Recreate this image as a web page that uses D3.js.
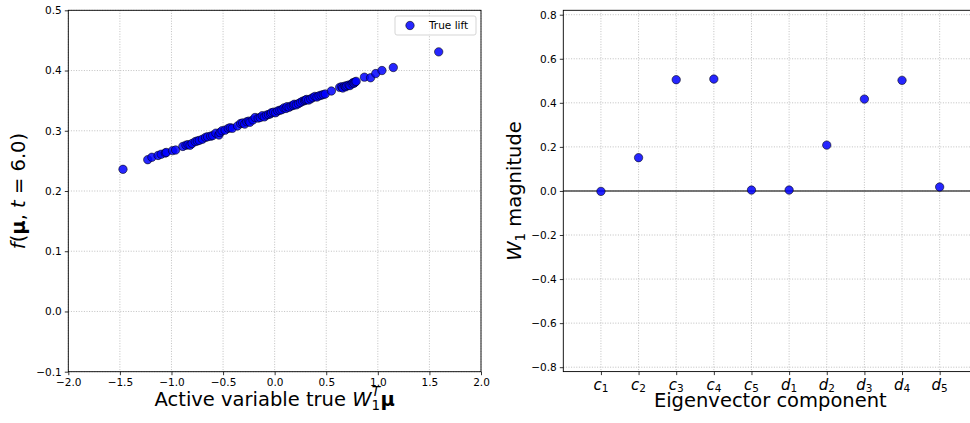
<!DOCTYPE html>
<html>
<head>
<meta charset="utf-8">
<script src="https://cdn.jsdelivr.net/npm/d3@7"></script>
<style>
  body { margin: 0; background: #fff; }
  svg { display: block; font-family: "DejaVu Sans", sans-serif; }
</style>
</head>
<body>
<svg id="chart" width="970" height="423"></svg>
<script>
// ---- Left panel data: active variable vs. lift ----
const activeVar = [-1.47, -1.23, -1.19, -1.13, -1.10, -1.06, -1.05, -0.99, -0.96, -0.89,
  -0.86, -0.84, -0.82, -0.80, -0.77, -0.75, -0.73, -0.70, -0.67, -0.65,
  -0.62, -0.60, -0.57, -0.54, -0.53, -0.51, -0.48, -0.45, -0.43, -0.41,
  -0.36, -0.33, -0.31, -0.29, -0.27, -0.25, -0.24, -0.21, -0.19, -0.16,
  -0.14, -0.12, -0.10, -0.08, -0.06, -0.04, -0.03, -0.01, 0.01, 0.03,
  0.05, 0.07, 0.09, 0.11, 0.12, 0.14, 0.16, 0.18, 0.19, 0.21,
  0.23, 0.25, 0.27, 0.29, 0.30, 0.31, 0.33, 0.35, 0.37, 0.39,
  0.41, 0.43, 0.45, 0.47, 0.49, 0.55, 0.63, 0.65, 0.66, 0.68,
  0.69, 0.70, 0.72, 0.73, 0.75, 0.76, 0.77, 0.78, 0.79, 0.87,
  0.93, 0.98, 1.04, 1.15, 1.59];
const trueLift = [0.236, 0.252, 0.256, 0.259, 0.261, 0.263, 0.264, 0.267, 0.268, 0.274,
  0.276, 0.277, 0.276, 0.279, 0.282, 0.283, 0.284, 0.286, 0.289, 0.290,
  0.291, 0.292, 0.296, 0.293, 0.297, 0.300, 0.301, 0.304, 0.305, 0.304,
  0.308, 0.312, 0.313, 0.311, 0.315, 0.316, 0.314, 0.318, 0.322, 0.321,
  0.322, 0.325, 0.323, 0.326, 0.327, 0.328, 0.330, 0.331, 0.330, 0.333,
  0.334, 0.335, 0.338, 0.337, 0.340, 0.339, 0.341, 0.342, 0.344, 0.343,
  0.345, 0.347, 0.349, 0.350, 0.351, 0.352, 0.351, 0.353, 0.355, 0.357,
  0.356, 0.358, 0.359, 0.360, 0.361, 0.366, 0.372, 0.373, 0.371, 0.374,
  0.373, 0.375, 0.376, 0.375, 0.378, 0.380, 0.379, 0.381, 0.382, 0.389,
  0.388, 0.395, 0.400, 0.405, 0.431];
const leftXTicks = [-2.0, -1.5, -1.0, -0.5, 0.0, 0.5, 1.0, 1.5, 2.0];
const leftYTicks = [-0.1, 0.0, 0.1, 0.2, 0.3, 0.4, 0.5];

// ---- Right panel data: eigenvector components ----
const compLetters = ["c", "c", "c", "c", "c", "d", "d", "d", "d", "d"];
const compIndex = ["1", "2", "3", "4", "5", "1", "2", "3", "4", "5"];
const w1Magnitude = [-0.002, 0.151, 0.505, 0.508, 0.004, 0.004, 0.208, 0.417, 0.502, 0.018];
const rightYTicks = [-0.8, -0.6, -0.4, -0.2, 0.0, 0.2, 0.4, 0.6, 0.8];

const svg = d3.select("#chart");
const fmt = d3.format(".1f");
const gridColor = "#b0b0b0";
const ptFill = "#0000ff";

function styleAxis(g) {
  g.select(".domain").remove();
  g.selectAll(".tick line").attr("stroke", "#000").attr("stroke-width", 0.8);
  g.selectAll(".tick text").attr("font-family", "DejaVu Sans").attr("font-size", 10.5).attr("fill", "#000");
}

// ================= LEFT PANEL =================
const L = { x0: 68.3, x1: 481, y0: 10.3, y1: 371.7 };
const xL = d3.scaleLinear().domain([-2, 2]).range([L.x0, L.x1]);
const yL = d3.scaleLinear().domain([-0.1, 0.5]).range([L.y1, L.y0]);
const gl = svg.append("g");

// grid
gl.append("g").selectAll("line").data(leftXTicks).join("line")
  .attr("x1", d => xL(d)).attr("x2", d => xL(d)).attr("y1", L.y0).attr("y2", L.y1)
  .attr("stroke", gridColor).attr("stroke-width", 0.8).attr("stroke-dasharray", "1,1.6");
gl.append("g").selectAll("line").data(leftYTicks).join("line")
  .attr("y1", d => yL(d)).attr("y2", d => yL(d)).attr("x1", L.x0).attr("x2", L.x1)
  .attr("stroke", gridColor).attr("stroke-width", 0.8).attr("stroke-dasharray", "1,1.6");

// points
gl.append("g").selectAll("circle").data(activeVar).join("circle")
  .attr("cx", d => xL(d)).attr("cy", (d, i) => yL(trueLift[i])).attr("r", 4.2)
  .attr("fill", ptFill).attr("fill-opacity", 0.85)
  .attr("stroke", "#000").attr("stroke-opacity", 0.8).attr("stroke-width", 0.7);

// axes
gl.append("g").attr("transform", `translate(0,${L.y1})`)
  .call(d3.axisBottom(xL).tickValues(leftXTicks).tickFormat(fmt).tickSize(3.5).tickPadding(3))
  .call(styleAxis);
gl.append("g").attr("transform", `translate(${L.x0},0)`)
  .call(d3.axisLeft(yL).tickValues(leftYTicks).tickFormat(fmt).tickSize(3.5).tickPadding(3))
  .call(styleAxis);
gl.append("rect").attr("x", L.x0).attr("y", L.y0).attr("width", L.x1 - L.x0).attr("height", L.y1 - L.y0)
  .attr("fill", "none").attr("stroke", "#000").attr("stroke-width", 0.9);

// legend
const lg = gl.append("g");
lg.append("rect").attr("x", 395).attr("y", 16).attr("width", 81).attr("height", 19).attr("rx", 2)
  .attr("fill", "#fff").attr("fill-opacity", 0.8).attr("stroke", "#d0d0d0").attr("stroke-width", 0.9);
lg.append("circle").attr("cx", 410).attr("cy", 25.5).attr("r", 4.2)
  .attr("fill", ptFill).attr("fill-opacity", 0.85).attr("stroke", "#000").attr("stroke-opacity", 0.8).attr("stroke-width", 0.7);
lg.append("text").attr("x", 429).attr("y", 29.3).attr("font-size", 10.5).text("True lift");

// axis labels
const xlab = gl.append("text").attr("x", (L.x0 + L.x1) / 2).attr("y", 406)
  .attr("text-anchor", "middle").attr("font-size", 19.5);
xlab.append("tspan").text("Active variable true ");
xlab.append("tspan").attr("font-style", "italic").text("W");
xlab.append("tspan").attr("font-size", 13.5).attr("dy", 4).text("1");
xlab.append("tspan").attr("font-size", 13.5).attr("font-style", "italic").attr("dx", -8.4).attr("dy", -14).text("T");
xlab.append("tspan").attr("font-weight", "bold").attr("dy", 10).attr("dx", 0.5).text("μ");

const ylab = gl.append("text").attr("transform", "translate(25,191) rotate(-90)")
  .attr("text-anchor", "middle").attr("font-size", 19.5);
ylab.append("tspan").attr("font-style", "italic").text("f");
ylab.append("tspan").text("(");
ylab.append("tspan").attr("font-weight", "bold").text("μ");
ylab.append("tspan").text(", ");
ylab.append("tspan").attr("font-style", "italic").text("t");
ylab.append("tspan").text(" = 6.0)");

// ================= RIGHT PANEL =================
const R = { x0: 563.3, x1: 977.3, y0: 10.3, y1: 371.6 };
const xR = d3.scaleLinear().domain([-1, 10]).range([R.x0, R.x1]);
const yR = d3.scaleLinear().domain([-0.82, 0.82]).range([R.y1, R.y0]);
const gr = svg.append("g");
const idx = d3.range(compLetters.length);

gr.append("g").selectAll("line").data(idx).join("line")
  .attr("x1", d => xR(d)).attr("x2", d => xR(d)).attr("y1", R.y0).attr("y2", R.y1)
  .attr("stroke", gridColor).attr("stroke-width", 0.8).attr("stroke-dasharray", "1,1.6");
gr.append("g").selectAll("line").data(rightYTicks).join("line")
  .attr("y1", d => yR(d)).attr("y2", d => yR(d)).attr("x1", R.x0).attr("x2", R.x1)
  .attr("stroke", gridColor).attr("stroke-width", 0.8).attr("stroke-dasharray", "1,1.6");

// zero line
gr.append("line").attr("x1", R.x0).attr("x2", R.x1).attr("y1", yR(0)).attr("y2", yR(0))
  .attr("stroke", "#4a4a4a").attr("stroke-width", 1.4);

gr.append("g").selectAll("circle").data(w1Magnitude).join("circle")
  .attr("cx", (d, i) => xR(i)).attr("cy", d => yR(d)).attr("r", 4.2)
  .attr("fill", ptFill).attr("fill-opacity", 0.85)
  .attr("stroke", "#000").attr("stroke-opacity", 0.8).attr("stroke-width", 0.7);

gr.append("g").attr("transform", `translate(${R.x0},0)`)
  .call(d3.axisLeft(yR).tickValues(rightYTicks).tickFormat(fmt).tickSize(3.5).tickPadding(3))
  .call(styleAxis);
gr.append("g").attr("transform", `translate(0,${R.y1})`)
  .call(d3.axisBottom(xR).tickValues(idx).tickFormat("").tickSize(3.5))
  .call(styleAxis);
// category labels with subscripts
gr.append("g").selectAll("text").data(idx).join("text")
  .attr("x", d => xR(d)).attr("y", 389.5).attr("text-anchor", "middle").attr("font-size", 15)
  .each(function(d) {
    const t = d3.select(this);
    t.append("tspan").attr("font-style", "italic").text(compLetters[d]);
    t.append("tspan").attr("font-size", 10.5).attr("dy", 2.5).text(compIndex[d]);
  });

gr.append("rect").attr("x", R.x0).attr("y", R.y0).attr("width", R.x1 - R.x0).attr("height", R.y1 - R.y0)
  .attr("fill", "none").attr("stroke", "#000").attr("stroke-width", 0.9);

gr.append("text").attr("x", (R.x0 + R.x1) / 2).attr("y", 407).attr("text-anchor", "middle")
  .attr("font-size", 19.5).text("Eigenvector component");

const ylabR = gr.append("text").attr("transform", "translate(521,191) rotate(-90)")
  .attr("text-anchor", "middle").attr("font-size", 19.5);
ylabR.append("tspan").attr("font-style", "italic").text("W");
ylabR.append("tspan").attr("font-size", 13.5).attr("dy", 4).text("1");
ylabR.append("tspan").attr("dy", -4).text(" magnitude");
</script>
</body>
</html>
